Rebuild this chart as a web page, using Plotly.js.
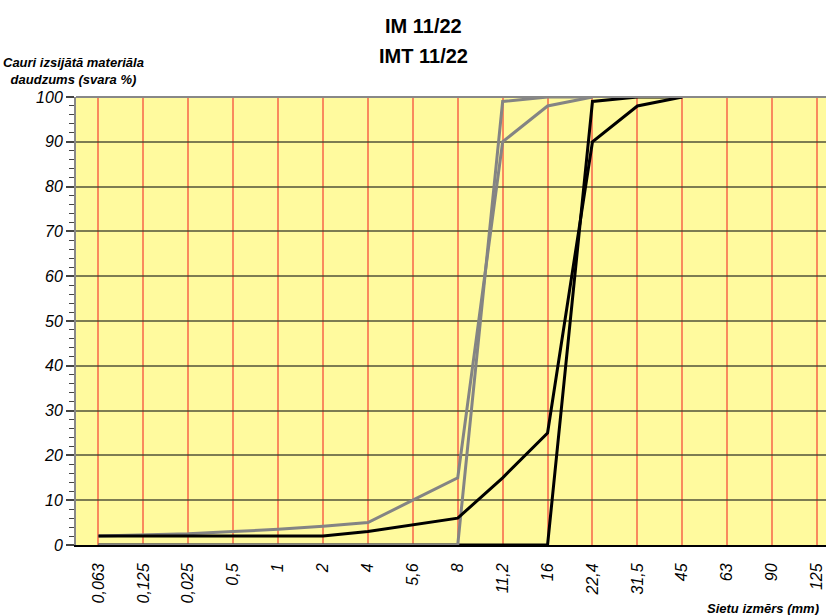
<!DOCTYPE html>
<html><head><meta charset="utf-8">
<script src="https://cdn.plot.ly/plotly-3.0.1.min.js"></script>
<style>html,body{margin:0;padding:0;background:#fff}#chart{width:826px;height:615px}</style>
</head><body><div id="chart"></div>
<script>
const sieves = ["0,063","0,125","0,025","0,5","1","2","4","5,6","8","11,2","16","22,4","31,5","45","63","90","125"];
// IM 11/22 envelope (grey)
const greyUpperX = ["0,063","0,125","0,025","0,5","1","2","4","5,6","8","11,2","16","22,4"];
const greyUpperY = [2,2.2,2.5,3,3.5,4.2,5,10,15,90,98,100];
const greyLowerX = ["0,063","0,125","0,025","0,5","1","2","4","5,6","8","11,2","16","22,4"];
const greyLowerY = [0,0,0,0,0,0,0,0,0,99,100,100];
// IMT 11/22 envelope (black)
const blackUpperX = ["0,063","0,125","0,025","0,5","1","2","4","5,6","8","11,2","16","22,4","31,5","45"];
const blackUpperY = [2,2,2,2,2,2,3,4.5,6,15,25,90,98,100];
const blackLowerX = ["0,063","0,125","0,025","0,5","1","2","4","5,6","8","11,2","16","22,4","31,5","45"];
const blackLowerY = [0,0,0,0,0,0,0,0,0,0,0,99,100,100];

const traces = [
  {x: blackLowerX, y: blackLowerY, mode:'lines', line:{color:'#000', width:3}, hoverinfo:'skip'},
  {x: greyLowerX, y: greyLowerY, mode:'lines', line:{color:'#848484', width:3}, hoverinfo:'skip'},
  {x: greyUpperX, y: greyUpperY, mode:'lines', line:{color:'#848484', width:3}, hoverinfo:'skip'},
  {x: blackUpperX, y: blackUpperY, mode:'lines', line:{color:'#000', width:3}, hoverinfo:'skip'}
];
const fnt = 'Liberation Sans, Arial, sans-serif';
const layout = {
  width:826, height:615,
  margin:{l:76, r:0, t:97, b:70},
  paper_bgcolor:'#fff', plot_bgcolor:'#FFFA9E',
  showlegend:false,
  xaxis:{type:'category', categoryorder:'array', categoryarray:sieves, tickvals:sieves, ticktext:sieves,
    range:[-0.5, 16.2], showgrid:true, gridcolor:'#F98A5E', gridwidth:2,
    showline:true, linecolor:'#000', linewidth:2, zeroline:false,
    ticks:'', tickangle:-90, ticklabelstandoff:10,
    tickfont:{family:fnt, size:16, style:'italic', color:'#000'}},
  yaxis:{range:[0,100], dtick:10, showgrid:true, gridcolor:'rgba(70,70,50,0.7)', gridwidth:2,
    showline:true, linecolor:'#888', linewidth:2, zeroline:false,
    ticks:'outside', ticklen:8, tickwidth:2, tickcolor:'#444',
    minor:{dtick:2, ticks:'outside', ticklen:5, tickwidth:1, tickcolor:'#444', showgrid:false},
    tickfont:{family:fnt, size:16, style:'italic', color:'#000'}},
  annotations:[
    {text:'<b>IM 11/22</b>', xref:'paper', yref:'paper', x:0.463, y:1.158, xanchor:'center', yanchor:'middle', showarrow:false, font:{family:fnt, size:20, color:'#000'}},
    {text:'<b>IMT 11/22</b>', xref:'paper', yref:'paper', x:0.463, y:1.092, xanchor:'center', yanchor:'middle', showarrow:false, font:{family:fnt, size:20, color:'#000'}},
    {text:'<b><i>Cauri izsijātā materiāla<br>daudzums (svara %)</i></b>', xref:'paper', yref:'paper', x:-0.003, y:1.057, xanchor:'center', yanchor:'middle', showarrow:false, align:'center', font:{family:fnt, size:13, color:'#000'}},
    {text:'<b><i>Sietu izmērs (mm)</i></b>', xref:'paper', yref:'paper', x:0.993, y:-0.141, xanchor:'right', yanchor:'middle', showarrow:false, font:{family:fnt, size:13, color:'#000'}}
  ],
  shapes:[
    {type:'line', xref:'paper', yref:'paper', x0:0, x1:1, y0:1, y1:1, line:{color:'#888', width:2}}
  ]
};
Plotly.newPlot('chart', traces, layout, {displayModeBar:false, staticPlot:true});
</script></body></html>
